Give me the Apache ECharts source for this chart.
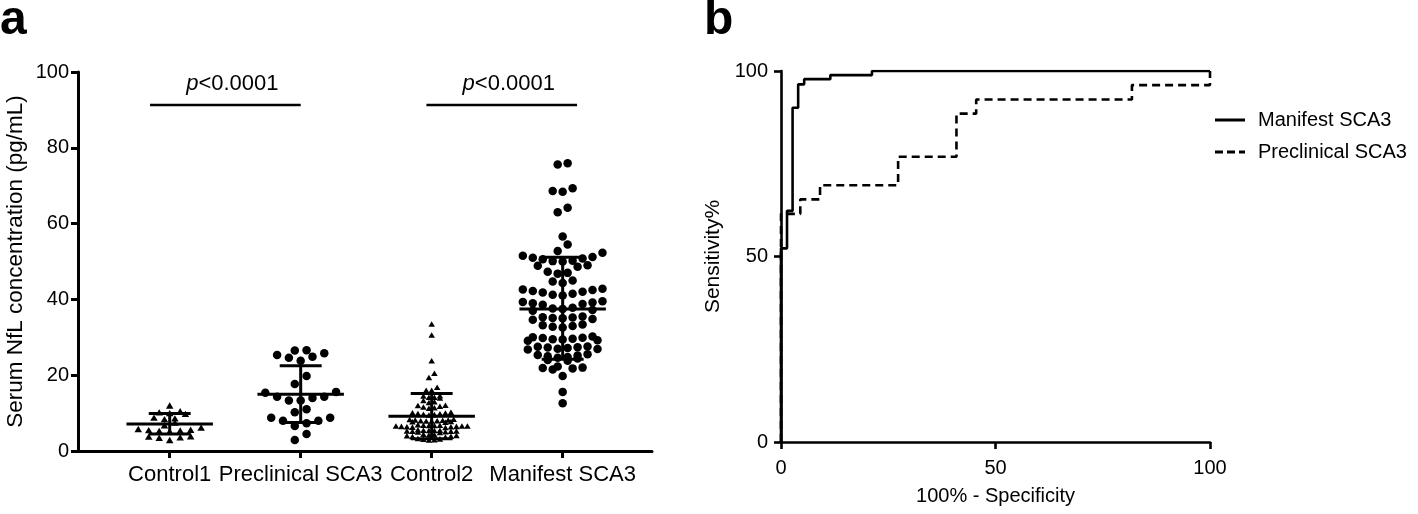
<!DOCTYPE html>
<html>
<head>
<meta charset="utf-8">
<script src="https://cdn.jsdelivr.net/npm/echarts@6/dist/echarts.min.js"></script>
<style>
html,body{margin:0;padding:0;background:#fff;}
#c{width:1418px;height:514px;}
</style>
</head>
<body>
<div id="c"></div>
<script>
// ---------- Panel a data ----------
const categories = ['Control1', 'Preclinical SCA3', 'Control2', 'Manifest SCA3'];
const control1 = [12.0, 10.5, 10.2, 10.0, 9.8, 8.8, 8.6, 8.4, 7.5, 6.8, 6.2, 5.8, 5.6, 5.5, 5.4, 5.3, 5.2, 3.9, 3.8, 3.6, 3.5, 2.9];
const preclinical = [26.6, 26.5, 25.8, 25.3, 24.9, 24.6, 23.8, 19.8, 17.7, 15.6, 15.4, 14.3, 14.3, 14.0, 13.3, 13.3, 11.0, 10.2, 8.8, 8.8, 8.0, 8.0, 7.3, 6.6, 4.5, 2.9];
const control2 = [33.5, 30.6, 23.8, 20.5, 19.4, 16.8, 16.0, 16.0,
  14.5, 14.2, 14.0, 14.2, 14.6,
  13.3, 13.0, 12.8,
  12.0, 11.6, 11.8, 12.1, 11.3, 11.4,
  10.2, 10.0, 9.8, 9.6, 9.7, 10.1, 9.9, 9.5,
  8.4, 8.2, 8.0, 7.9, 7.8, 8.3, 8.1, 7.7, 7.6, 8.0, 7.9, 8.2,
  6.9, 6.8, 6.7, 6.6, 6.5, 6.4, 6.3, 6.7, 6.6, 6.5, 6.8, 6.4, 6.2, 6.6,
  5.6, 5.5, 5.4, 5.3, 5.2, 5.1, 5.0, 5.4, 5.3, 5.2, 4.9, 5.5,
  4.4, 4.2, 4.0, 3.9, 3.8, 4.1, 3.7, 4.3,
  3.3, 3.1, 3.0, 2.9, 3.2];
const manifest = [75.9, 75.6, 69.3, 68.4, 68.6, 64.2, 63.0, 56.6, 54.5, 52.8, 52.3,
  51.5, 51.2, 51.0, 50.8, 50.6, 50.2, 50.0, 50.1,
  48.9, 48.6, 49.0,
  47.3, 47.0, 46.8,
  44.7, 44.3, 45.0,
  42.8, 42.5, 42.0, 41.8, 42.2, 41.5, 41.2, 42.6, 41.0,
  39.5, 39.2, 39.0, 38.8, 39.3, 38.6,
  37.8, 37.5, 37.2, 37.6, 37.0,
  35.5, 35.2, 35.0, 34.8, 35.3, 34.6, 35.1,
  33.4, 33.0, 32.8, 33.2, 32.6,
  30.2, 29.9, 29.6, 29.4, 29.8, 29.2, 30.0, 29.5, 29.1,
  27.6, 27.3, 27.0, 27.5, 26.9, 27.2, 27.4, 26.8,
  25.5, 25.2, 25.0, 24.8, 24.6, 25.3, 24.4,
  24.0, 23.8,
  22.3, 22.0, 21.8, 21.5, 21.9,
  19.8, 15.6, 12.6];
const groupMean = [7.1, 15.0, 9.2, 37.5];
const groupSdLow = [4.5, 7.5, 3.2, 24.2];
const groupSdHigh = [9.9, 22.5, 15.2, 51.1];
const yTicksA = [0, 20, 40, 60, 80, 100];
// significance brackets (x in category units, y in pg/mL)
const sigX1 = [-0.15, 1.96];
const sigX2 = [1.0, 3.11];
const sigY = [91.3, 91.3];
const sigText = ['p<0.0001', 'p<0.0001'];

// ---------- Panel b data (ROC step vertices) ----------
const rocManifestX = [0, 0, 1.4, 2.7, 4.0, 5.4, 11.5, 21.2, 100];
const rocManifestY = [0, 52.2, 62.3, 90.1, 96.4, 97.8, 98.9, 100, 100];
const rocPreclinX = [0, 0, 4.5, 9.1, 27.3, 40.9, 45.5, 81.8, 100];
const rocPreclinY = [0, 61.5, 65.4, 69.2, 76.9, 88.5, 92.3, 96.2, 100];
const rocNames = ['Manifest SCA3', 'Preclinical SCA3'];

const FONT = '"Liberation Sans", Arial, sans-serif';

// Binned (Prism-like) scatter layout: rows of points spread symmetrically
function swarm(values, gi, rowH, step) {
  const sorted = values.slice().sort((a, b) => a - b);
  const rows = []; let cur = null;
  sorted.forEach(v => {
    if (!cur || v - cur.start >= rowH) { cur = { start: v, vals: [] }; rows.push(cur); }
    cur.vals.push(v);
  });
  const pts = [];
  rows.forEach(r => {
    const n = r.vals.length;
    const offs = [];
    for (let i = 0; i < n; i++) offs.push((i - (n - 1) / 2) * step);
    offs.sort((a, b) => Math.abs(a) - Math.abs(b) || a - b);
    r.vals.forEach((v, i) => pts.push([gi + offs[i], v]));
  });
  return pts;
}

const groups = [
  { vals: control1, sym: 'triangle', size: 7.5, rowH: 1.5, step: 0.08 },
  { vals: preclinical, sym: 'circle', size: 8.5, rowH: 2.4, step: 0.09 },
  { vals: control2, sym: 'triangle', size: 6.5, rowH: 1.2, step: 0.042 },
  { vals: manifest, sym: 'circle', size: 8.5, rowH: 2.3, step: 0.076 }
];

const scatterSeries = groups.map((g, i) => ({
  type: 'scatter', xAxisIndex: 0, yAxisIndex: 0, name: categories[i],
  symbol: g.sym, symbolSize: g.sym === 'triangle' ? [g.size, g.size * 0.85] : g.size,
  itemStyle: { color: '#000', opacity: 1 },
  data: swarm(g.vals, i, g.rowH, g.step),
  silent: true, z: 3
}));

const axisStyleA = { onZero: false, lineStyle: { color: '#000', width: 3 } };
const axisStyleB = { onZero: false, lineStyle: { color: '#000', width: 2.6 } };

const option = {
  animation: false,
  backgroundColor: '#fff',
  textStyle: { fontFamily: FONT, color: '#000' },
  grid: [
    { left: 78, top: 72, width: 574, height: 379 },
    { left: 781, top: 71, width: 429, height: 371 }
  ],
  xAxis: [
    {
      gridIndex: 0, type: 'value', min: -0.7, max: 3.682,
      axisLine: { show: true, ...axisStyleA },
      axisTick: { show: true, length: 7, customValues: [0, 1, 2, 3], lineStyle: { color: '#000', width: 3 } },
      axisLabel: { customValues: [0, 1, 2, 3], formatter: v => categories[Math.round(v)], fontSize: 22, color: '#000', fontFamily: FONT, margin: 13 },
      splitLine: { show: false }
    },
    {
      gridIndex: 1, type: 'value', min: 0, max: 100, interval: 50,
      axisLine: { show: true, ...axisStyleB },
      axisTick: { show: true, length: 7, lineStyle: { color: '#000', width: 2.6 } },
      axisLabel: { fontSize: 20, color: '#000', fontFamily: FONT, margin: 16 },
      splitLine: { show: false },
      name: '100% - Specificity', nameLocation: 'middle', nameGap: 44,
      nameTextStyle: { fontSize: 20, color: '#000', fontFamily: FONT }
    }
  ],
  yAxis: [
    {
      gridIndex: 0, type: 'value', min: 0, max: 100, interval: 20,
      axisLine: { show: true, ...axisStyleA },
      axisTick: { show: true, length: 7, lineStyle: { color: '#000', width: 3 } },
      axisLabel: { fontSize: 20, color: '#000', fontFamily: FONT, margin: 9 },
      splitLine: { show: false },
      name: 'Serum NfL concentration (pg/mL)', nameLocation: 'middle', nameGap: 51,
      nameTextStyle: { fontSize: 22.5, color: '#000', fontFamily: FONT }
    },
    {
      gridIndex: 1, type: 'value', min: 0, max: 100, interval: 50,
      axisLine: { show: true, ...axisStyleB },
      axisTick: { show: true, length: 7, lineStyle: { color: '#000', width: 2.6 } },
      axisLabel: { fontSize: 20, color: '#000', fontFamily: FONT, margin: 13 },
      splitLine: { show: false },
      name: 'Sensitivity%', nameLocation: 'middle', nameGap: 57,
      nameTextStyle: { fontSize: 21, color: '#000', fontFamily: FONT }
    }
  ],
  legend: {
    data: [
      { name: rocNames[0], icon: 'path://M0,0h30v3h-30z' },
      { name: rocNames[1], icon: 'path://M0,0h8v3h-8z M12,0h8v3h-8z M24,0h6v3h-6z' }
    ],
    orient: 'vertical', left: 1210, top: 105,
    itemWidth: 30, itemHeight: 14, itemGap: 12,
    itemStyle: { color: '#000', borderWidth: 0 },
    textStyle: { fontSize: 20, color: '#000', fontFamily: FONT, padding: [0, 0, 0, 8] },
    selectedMode: false
  },
  graphic: [
    { type: 'text', x: 0, y: 21, style: { text: 'a', font: 'bold 48px ' + FONT, verticalAlign: 'middle', fill: '#000' } },
    { type: 'text', x: 704, y: 21, style: { text: 'b', font: 'bold 48px ' + FONT, verticalAlign: 'middle', fill: '#000' } }
  ],
  series: [
    ...scatterSeries,
    {
      type: 'custom', xAxisIndex: 0, yAxisIndex: 0, silent: true, z: 5,
      data: categories.map((c, i) => [i, groupMean[i], groupSdLow[i], groupSdHigh[i]]),
      renderItem: (params, api) => {
        const x = api.value(0), m = api.value(1), lo = api.value(2), hi = api.value(3);
        const seg = (a, b) => ({ type: 'line', shape: { x1: a[0], y1: a[1], x2: b[0], y2: b[1] }, style: { stroke: '#000', lineWidth: 3 } });
        return {
          type: 'group', children: [
            seg(api.coord([x, lo]), api.coord([x, hi])),
            seg(api.coord([x - 0.33, m]), api.coord([x + 0.33, m])),
            seg(api.coord([x - 0.16, hi]), api.coord([x + 0.16, hi])),
            seg(api.coord([x - 0.16, lo]), api.coord([x + 0.16, lo]))
          ]
        };
      }
    },
    {
      type: 'custom', xAxisIndex: 0, yAxisIndex: 0, silent: true, z: 5,
      data: sigX1.map((v, i) => [v, sigY[i], sigX2[i], i]),
      renderItem: (params, api) => {
        const x1 = api.value(0), y = api.value(1), x2 = api.value(2), idx = api.value(3);
        const a = api.coord([x1, y]), b = api.coord([x2, y]);
        const txt = sigText[idx].replace(/^p/, '{i|p}');
        return {
          type: 'group', children: [
            { type: 'line', shape: { x1: a[0], y1: a[1], x2: b[0], y2: b[1] }, style: { stroke: '#000', lineWidth: 2.5 } },
            { type: 'text', style: { text: txt, x: (a[0] + b[0]) / 2 + 7, y: a[1] - 10, align: 'center', verticalAlign: 'bottom',
              fontSize: 22, fontFamily: FONT, fill: '#000', rich: { i: { fontStyle: 'italic', fontSize: 22, fontFamily: FONT } } } }
          ]
        };
      }
    },
    {
      type: 'line', name: rocNames[0], xAxisIndex: 1, yAxisIndex: 1, step: 'end', symbol: 'none',
      lineStyle: { color: '#000', width: 2.6, type: 'solid' }, itemStyle: { color: '#000' },
      data: rocManifestX.map((x, i) => [x, rocManifestY[i]]), z: 4
    },
    {
      type: 'line', name: rocNames[1], xAxisIndex: 1, yAxisIndex: 1, step: 'end', symbol: 'none',
      lineStyle: { color: '#000', width: 2.6, type: [8, 5] }, itemStyle: { color: '#000' },
      data: rocPreclinX.map((x, i) => [x, rocPreclinY[i]]), z: 4
    }
  ]
};

const chart = echarts.init(document.getElementById('c'), null, { renderer: 'canvas' });
chart.setOption(option);
</script>
</body>
</html>
